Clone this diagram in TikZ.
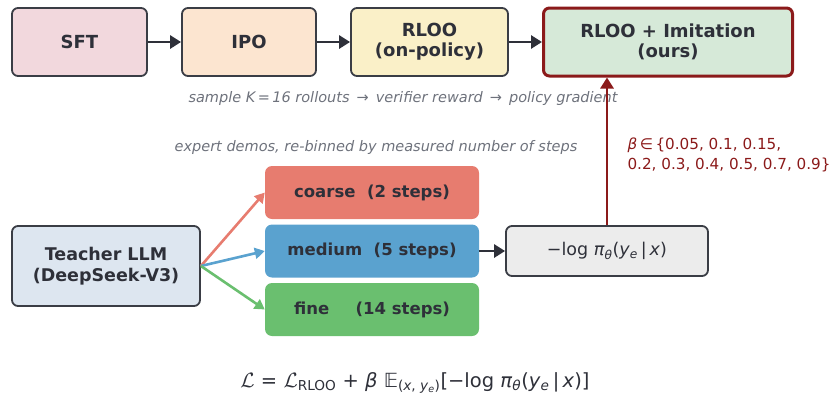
\documentclass[tikz,border=0pt]{standalone}
\usepackage{fontspec}
\setmainfont{DejaVu Sans}
\usetikzlibrary{positioning}
\usetikzlibrary{arrows.meta}
\definecolor{ink}{HTML}{2E3039}
\definecolor{edge}{HTML}{3A3D45}
\definecolor{muted}{HTML}{6E727C}
\definecolor{ourred}{HTML}{8B1A1A}
\definecolor{sftfill}{HTML}{F2D8DD}
\definecolor{ipofill}{HTML}{FCE5D0}
\definecolor{rloofill}{HTML}{FAF0C8}
\definecolor{oursfill}{HTML}{D6E9D8}
\definecolor{teachfill}{HTML}{DDE6F0}
\definecolor{negfill}{HTML}{ECECEC}
\definecolor{coarsec}{HTML}{E77C6F}
\definecolor{mediumc}{HTML}{5AA2CF}
\definecolor{finec}{HTML}{6ABF6F}
\tikzset{
    every node/.style={
        font=\fontsize{18}{20}\selectfont\bfseries,
        text=ink,
        align=center},
    stage/.style={
        draw=edge,
        line width=1.8pt,
        rounded corners=6pt,
        minimum height=68pt},
    bin/.style={
        rounded corners=7pt,
        minimum width=214pt,
        minimum height=53pt,
        font=\fontsize{16.5}{19}\selectfont\bfseries},
    flow/.style={
        draw=ink,
        line width=2.8pt,
        -{Triangle[length=11pt,width=13pt]}},
    split/.style={
        line width=2.6pt,
        -{Triangle[length=10pt,width=11pt]}},
    note/.style={
        font=\fontsize{14.5}{17}\selectfont\itshape,
        text=muted}}

\begin{document}
\begin{tikzpicture}[x=1pt,y=-1pt]
    \useasboundingbox (0,0) rectangle (830,399);

    % top row
    \node[stage,fill=sftfill,minimum width=135pt] (sft) at (79.5,42) {SFT};
    \node[stage,fill=ipofill,minimum width=134pt] (ipo) at (249,42) {IPO};
    \node[stage,fill=rloofill,minimum width=157pt] (rloo) at (429.5,42) {RLOO\\(on-policy)};
    \node[stage,fill=oursfill,draw=ourred,line width=3pt,minimum width=249pt] (ours) at (668,42) {RLOO + Imitation\\(ours)};

    \draw[flow] (sft) -- (ipo);
    \draw[flow] (ipo) -- (rloo);
    \draw[flow] (rloo) -- (ours);

    \node[note] (rollouts) at (403,98) {sample \textit{K}\,=\,16 rollouts \,→\, verifier reward \,→\, policy gradient};
    \node[note] (demos) at (376,147) {expert demos, re-binned by measured number of steps};

    % teacher and bins
    \node[stage,fill=teachfill,minimum width=188pt,minimum height=80pt,font=\fontsize{17.5}{21}\selectfont\bfseries] (teacher) at (106,266) {Teacher LLM\\(DeepSeek-V3)};
    \node[bin,fill=coarsec] (coarse) at (372,192.5) {coarse\hspace{0.7em}(2 steps)};
    \node[bin,fill=mediumc] (medium) at (372,251) {medium\hspace{0.7em}(5 steps)};
    \node[bin,fill=finec] (fine) at (372,309.5) {fine\hspace{1.6em}(14 steps)};

    \draw[split,coarsec] (teacher.east) -- (coarse.west);
    \draw[split,mediumc] (teacher.east) -- (medium.west);
    \draw[split,finec] (teacher.east) -- (fine.west);

    \node[stage,fill=negfill,minimum width=202pt,minimum height=50pt,font=\fontsize{17.5}{20}\selectfont] (neg) at (607,251)
        {−log \textit{π}\textsubscript{\textit{θ}}(\textit{y}\textsubscript{\textit{e}}\,|\,\textit{x})};
    \draw[flow] (medium) -- (neg);
    \draw[draw=ourred,line width=2.8pt,-{Triangle[length=11pt,width=13pt]}] (neg.north) -- (neg.north |- ours.south);

    \node[anchor=west,font=\fontsize{15.2}{20}\selectfont,text=ourred,align=left] (beta) at (624,155)
        {\textit{β}\,∈\,\{0.05, 0.1, 0.15,\\0.2, 0.3, 0.4, 0.5, 0.7, 0.9\}};

    % objective
    \node[font=\fontsize{19.5}{23}\selectfont] (loss) at (415,383)
        {$\mathcal{L}$ = $\mathcal{L}$\textsubscript{RLOO} + \textit{β} 𝔼\textsubscript{(\textit{x}, \textit{y}\textsubscript{\textit{e}})}[−log \textit{π}\textsubscript{\textit{θ}}(\textit{y}\textsubscript{\textit{e}}\,|\,\textit{x})]};
\end{tikzpicture}
\end{document}
